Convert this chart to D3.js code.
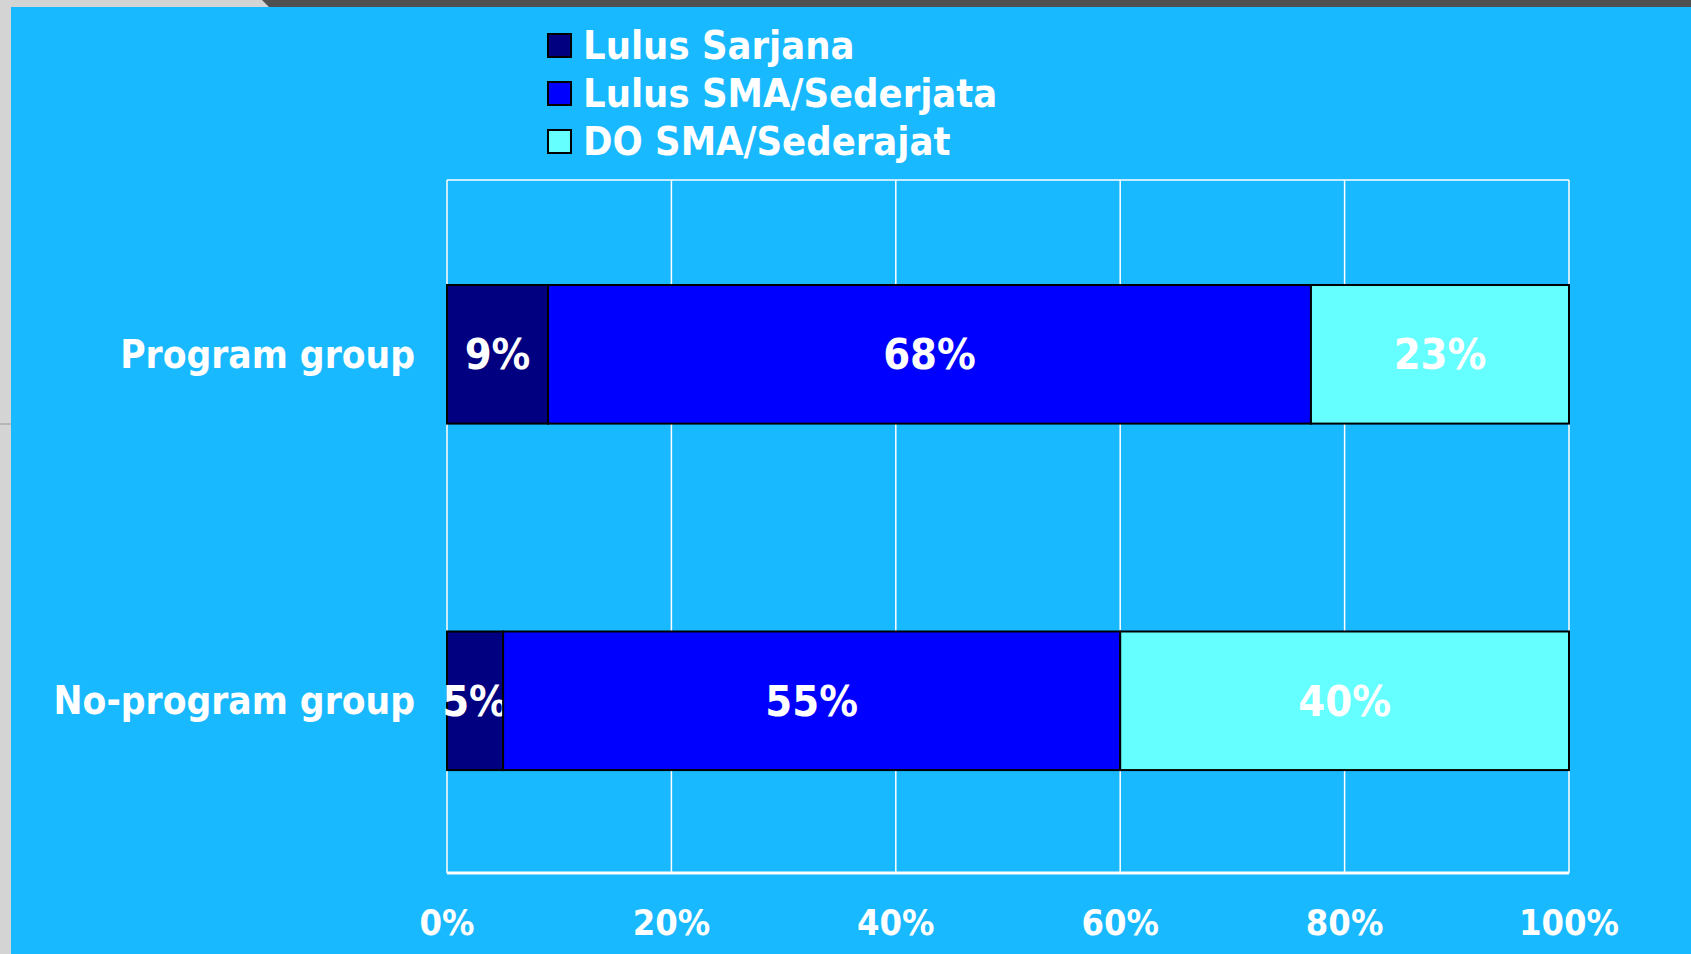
<!DOCTYPE html>
<html>
<head>
<meta charset="utf-8">
<script src="https://cdn.jsdelivr.net/npm/d3@7"></script>
<style>
  html, body { margin: 0; padding: 0; background: #d4d4d4; overflow: hidden; }
  svg { display: block; }
  text { font-family: "DejaVu Sans Condensed", "DejaVu Sans", sans-serif; font-stretch: condensed; font-weight: bold; fill: #ffffff; }
</style>
</head>
<body>
<script>
const width = 1691, height = 954;

// data
const groups = ["Program group", "No-program group"];
const seriesNames = ["Lulus Sarjana", "Lulus SMA/Sederjata", "DO SMA/Sederajat"];
const seriesColors = ["#000080", "#0000ff", "#66ffff"];
const lulusSarjana = [9, 5];
const lulusSMA = [68, 55];
const doSMA = [23, 40];
const tickValues = [0, 20, 40, 60, 80, 100];

const rows = groups.map((g, i) => ({ group: g, values: [lulusSarjana[i], lulusSMA[i], doSMA[i]] }));

const svg = d3.select("body").append("svg").attr("width", width).attr("height", height);

// slide frame
svg.append("rect").attr("width", width).attr("height", height).attr("fill", "#d4d4d4");
svg.append("path").attr("d", "M262,0 L" + width + ",0 L" + width + ",7 L269,7 Z").attr("fill", "#505050");
svg.append("rect").attr("x", 11).attr("y", 7).attr("width", width - 11).attr("height", height - 7).attr("fill", "#19b9ff");
svg.append("line").attr("x1", 0).attr("x2", 11).attr("y1", 424).attr("y2", 424).attr("stroke", "#9a9a9a").attr("stroke-width", 1);

const plot = { left: 447, right: 1569, top: 180, bottom: 873 };

const x = d3.scaleLinear().domain([0, 100]).range([plot.left, plot.right]);
const y = d3.scaleBand().domain(groups).range([plot.top, plot.bottom])
    .paddingInner(0.6).paddingOuter(0.3).align(0.505);

// gridlines
svg.append("g")
    .selectAll("line")
    .data(tickValues)
    .enter().append("line")
    .attr("x1", d => x(d)).attr("x2", d => x(d))
    .attr("y1", plot.top).attr("y2", plot.bottom)
    .attr("stroke", "#ffffff").attr("stroke-width", 1.5);

svg.append("line")
    .attr("x1", plot.left).attr("x2", plot.right)
    .attr("y1", plot.top).attr("y2", plot.top)
    .attr("stroke", "#ffffff").attr("stroke-width", 1.5);

// bars
const stack = d3.stack().keys([0, 1, 2]).value((d, k) => d.values[k]);
const layers = stack(rows);

const layer = svg.append("g")
    .selectAll("g")
    .data(layers)
    .enter().append("g")
    .attr("fill", (d, i) => seriesColors[i]);

layer.selectAll("rect")
    .data(d => d)
    .enter().append("rect")
    .attr("x", d => x(d[0]))
    .attr("y", d => y(d.data.group))
    .attr("width", d => x(d[1]) - x(d[0]))
    .attr("height", y.bandwidth())
    .attr("stroke", "#000000")
    .attr("stroke-width", 2);

layer.selectAll("text")
    .data(d => d)
    .enter().append("text")
    .attr("x", d => (x(d[0]) + x(d[1])) / 2)
    .attr("y", d => y(d.data.group) + y.bandwidth() / 2)
    .attr("text-anchor", "middle")
    .attr("dominant-baseline", "central")
    .style("font-size", "43px")
    .text(d => (d[1] - d[0]) + "%");

// bottom axis line
svg.append("line")
    .attr("x1", plot.left).attr("x2", plot.right)
    .attr("y1", plot.bottom).attr("y2", plot.bottom)
    .attr("stroke", "#ffffff").attr("stroke-width", 3);

// x tick labels
svg.append("g")
    .selectAll("text")
    .data(tickValues)
    .enter().append("text")
    .attr("x", d => x(d))
    .attr("y", 922)
    .attr("text-anchor", "middle")
    .attr("dominant-baseline", "central")
    .style("font-size", "36px")
    .text(d => d + "%");

// category labels
svg.append("g")
    .selectAll("text")
    .data(groups)
    .enter().append("text")
    .attr("x", 415)
    .attr("y", d => y(d) + y.bandwidth() / 2)
    .attr("text-anchor", "end")
    .attr("dominant-baseline", "central")
    .style("font-size", "38.5px")
    .text(d => d);

// legend
const legend = svg.append("g").attr("transform", "translate(548, 0)");
const legendItems = legend.selectAll("g")
    .data(seriesNames)
    .enter().append("g")
    .attr("transform", (d, i) => `translate(0, ${59 + i * 48})`);

legendItems.append("rect")
    .attr("x", 0).attr("y", -25)
    .attr("width", 23).attr("height", 23)
    .attr("fill", (d, i) => seriesColors[i])
    .attr("stroke", "#000000").attr("stroke-width", 2);

legendItems.append("text")
    .attr("x", 35)
    .attr("y", 0)
    .style("font-size", "39.5px")
    .text(d => d);
</script>
</body>
</html>
